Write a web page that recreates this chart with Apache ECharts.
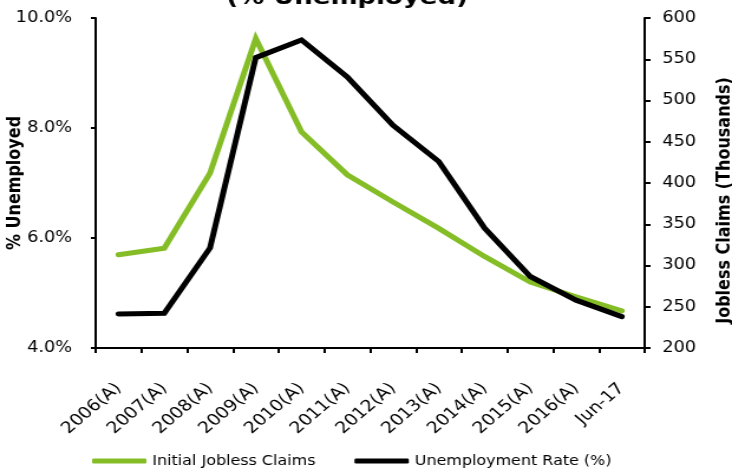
<!DOCTYPE html>
<html>
<head>
<meta charset="utf-8">
<script src="https://cdn.jsdelivr.net/npm/echarts@6/dist/echarts.min.js"></script>
<style>
html,body{margin:0;padding:0;background:#fff;overflow:hidden;width:732px;height:469px;}
#chart{width:620px;height:469px;transform:scaleX(1.180645);transform-origin:0 0;}
</style>
</head>
<body>
<div id="chart"></div>
<script>
var categories = ['2006(A)','2007(A)','2008(A)','2009(A)','2010(A)','2011(A)','2012(A)','2013(A)','2014(A)','2015(A)','2016(A)','Jun-17'];
var joblessClaims = [313, 321, 412, 575, 462, 410, 377, 345, 311, 280, 262, 245];
var unemploymentRate = [4.62, 4.63, 5.82, 9.28, 9.6, 8.93, 8.05, 7.39, 6.18, 5.3, 4.87, 4.57];
var titleText = '(% Unemployed)';
var leftAxisName = '% Unemployed';
var rightAxisName = 'Jobless Claims (Thousands)';

var FONT = '"DejaVu Sans", Verdana, sans-serif';
var chart = echarts.init(document.getElementById('chart'), null, {renderer:'canvas'});
chart.setOption({
  animation: false,
  backgroundColor: '#fff',
  title: {
    text: titleText,
    left: 289, textAlign: 'center',
    top: -18,
    textStyle: {fontFamily: FONT, fontWeight: 'bold', fontSize: 22, color: '#000'}
  },
  legend: {
    top: 454, left: 78,
    padding: 0,
    itemGap: 33,
    itemWidth: 46, itemHeight: 5,
    icon: 'roundRect',
    textStyle: {fontFamily: FONT, fontSize: 13.5, color: '#000'},
    data: ['Initial Jobless Claims', 'Unemployment Rate (%)']
  },
  grid: {left: 81, right: 74, top: 18, bottom: 121, containLabel: false, outerBoundsMode: 'none'},
  xAxis: {
    type: 'category',
    data: categories,
    boundaryGap: true,
    axisLine: {lineStyle: {color: '#000', width: 2}},
    axisTick: {show: true, length: 5, lineStyle: {color: '#000', width: 2}},
    axisLabel: {rotate: 45, fontFamily: FONT, fontSize: 16, color: '#000', margin: 38, interval: 0}
  },
  yAxis: [
    {
      type: 'value', min: 4, max: 10, interval: 2, position: 'left',
      name: leftAxisName, nameLocation: 'middle', nameGap: 60, nameRotate: 90, nameMoveOverlap: false,
      nameTextStyle: {fontFamily: FONT, fontWeight: 'bold', fontSize: 16, color: '#000'},
      axisLine: {show: true, lineStyle: {color: '#000', width: 2}},
      axisTick: {show: true, length: 4, lineStyle: {color: '#000', width: 2}},
      axisLabel: {fontFamily: FONT, fontSize: 15, color: '#000', margin: 20,
        formatter: function (v) { return v.toFixed(1) + '%'; }},
      splitLine: {show: false}
    },
    {
      type: 'value', min: 200, max: 600, interval: 50, position: 'right',
      name: rightAxisName, nameLocation: 'middle', nameGap: 60, nameRotate: 90, nameMoveOverlap: false,
      nameTextStyle: {fontFamily: FONT, fontWeight: 'bold', fontSize: 16, color: '#000', padding: [0, 35, 0, 0]},
      axisLine: {show: true, lineStyle: {color: '#000', width: 2}},
      axisTick: {show: true, length: 5, lineStyle: {color: '#000', width: 2}},
      axisLabel: {fontFamily: FONT, fontSize: 15, color: '#000', margin: 15},
      splitLine: {show: false}
    }
  ],
  series: [
    {
      name: 'Initial Jobless Claims', type: 'line', yAxisIndex: 1,
      data: joblessClaims, symbol: 'none',
      lineStyle: {color: '#84BD26', width: 5, cap: 'round', join: 'miter'},
      itemStyle: {color: '#84BD26'}
    },
    {
      name: 'Unemployment Rate (%)', type: 'line', yAxisIndex: 0,
      data: unemploymentRate, symbol: 'none',
      lineStyle: {color: '#000', width: 5, cap: 'round', join: 'miter'},
      itemStyle: {color: '#000'}
    }
  ]
});
</script>
</body>
</html>
